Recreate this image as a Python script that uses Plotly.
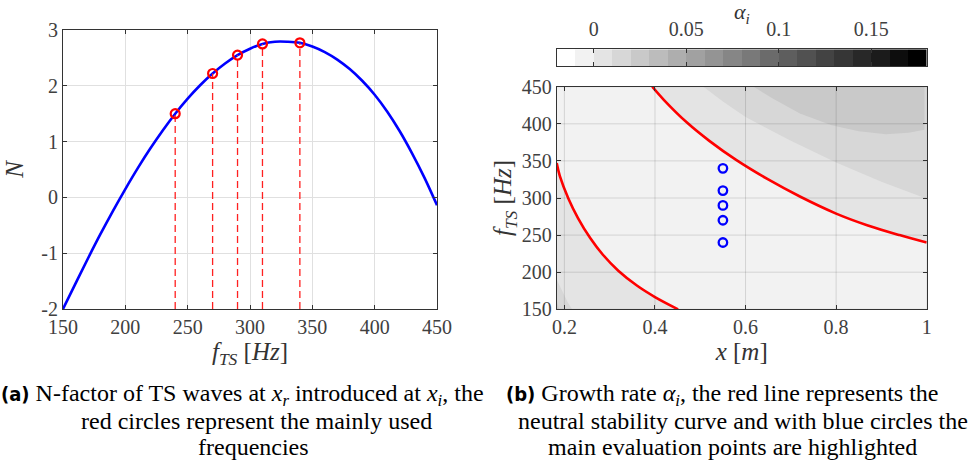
import plotly.graph_objects as go

# ---------------- data: left panel ----------------
f_curve = list(range(150, 451, 10))
N_curve = [-2.00, -1.545, -1.095, -0.66, -0.245, 0.15, 0.525, 0.875, 1.20, 1.50,
           1.77, 2.01, 2.22, 2.40, 2.55, 2.665, 2.75, 2.79, 2.79, 2.77,
           2.705, 2.605, 2.47, 2.30, 2.09, 1.84, 1.54, 1.19, 0.79, 0.35, -0.14]
f_sel = [240, 270, 290, 310, 340]
N_sel = [1.50, 2.22, 2.55, 2.75, 2.77]
left_xticks = [150, 200, 250, 300, 350, 400, 450]
left_yticks = [-2, -1, 0, 1, 2, 3]

# ---------------- data: right panel ----------------
x_range = [0.183, 1.0]
f_range = [150, 450]
# neutral stability curve (alpha_i = 0), two branches
x_lo = [0.183, 0.190, 0.209, 0.230, 0.257, 0.285, 0.319, 0.360, 0.400, 0.451]
f_lo = [347, 329.5, 299, 273, 246, 223.5, 202, 182, 166.5, 150]
x_up = [0.394, 0.420, 0.470, 0.520, 0.580, 0.650, 0.720, 0.800, 0.870, 0.940, 1.000]
f_up = [450, 432, 402, 377, 351, 325, 302, 279, 263, 250, 240]
# alpha_i = 0.01 contour (upper right) and 0.02 contour
x_b3 = [0.507, 0.550, 0.600, 0.700, 0.800, 0.900, 1.000]
f_b3 = [450, 430, 409, 377, 348, 322, 299]
x_b4 = [0.618, 0.660, 0.720, 0.790, 0.850, 0.910, 0.960, 0.995]
f_b4 = [450, 434, 414, 398, 390, 386, 388, 392]
# lower left corner contours
x_c3 = [0.183, 0.195, 0.207, 0.217]
f_c3 = [190, 175, 160, 150]
x_c4 = [0.183, 0.188]
f_c4 = [163, 150]
# evaluation points
x_pts = [0.55, 0.55, 0.55, 0.55, 0.55]
f_pts = [340, 310, 290, 270, 240]
right_xticks = [0.2, 0.4, 0.6, 0.8, 1.0]
right_xlabels = ["0.2", "0.4", "0.6", "0.8", "1"]
right_yticks = [150, 200, 250, 300, 350, 400, 450]

# colorbar levels
levels = [round(-0.02 + 0.01 * k, 2) for k in range(21)]
cb_ticks = [0, 0.05, 0.1, 0.15]
cb_labels = ["0", "0.05", "0.1", "0.15"]

nlev = len(levels) - 1


def gray(k):
    v = round(255 * (1 - k / (nlev - 1)))
    return f"rgb({v},{v},{v})"


FONT = "Liberation Serif"
AX = "#333333"

fig = go.Figure()

# ---------------- left panel ----------------
fig.add_trace(go.Scatter(x=f_curve, y=N_curve, mode="lines", line=dict(color="#0000ff", width=2.6, shape="spline"),
                         xaxis="x", yaxis="y", hoverinfo="skip", showlegend=False))
for fs, ns in zip(f_sel, N_sel):
    fig.add_trace(go.Scatter(x=[fs, fs], y=[left_yticks[0], ns], mode="lines",
                             line=dict(color="#ff2020", width=1.3, dash="7px,4px"),
                             xaxis="x", yaxis="y", hoverinfo="skip", showlegend=False))
fig.add_trace(go.Scatter(x=f_sel, y=N_sel, mode="markers",
                         marker=dict(symbol="circle-open", size=9, color="#ff0000", line=dict(width=2.2, color="#ff0000")),
                         xaxis="x", yaxis="y", hoverinfo="skip", showlegend=False))

# ---------------- right panel: filled contour bands ----------------
def band(xs, ys, k):
    fig.add_trace(go.Scatter(x=xs, y=ys, mode="lines", fill="toself", fillcolor=gray(k),
                             line=dict(width=0, color=gray(k)), xaxis="x2", yaxis="y2",
                             hoverinfo="skip", showlegend=False))

band([x_range[0], x_range[1], x_range[1], x_range[0], x_range[0]],
     [f_range[0], f_range[0], f_range[1], f_range[1], f_range[0]], 1)
band(x_lo + [x_range[0], x_lo[0]], f_lo + [f_range[0], f_lo[0]], 2)
band(x_up + [x_range[1], x_up[0]], f_up + [f_range[1], f_up[0]], 2)
band(x_b3 + [x_range[1], x_b3[0]], f_b3 + [f_range[1], f_b3[0]], 3)
band(x_b4 + [x_b4[-1], x_b4[0]], f_b4 + [f_range[1], f_b4[0]], 4)
band(x_c3 + [x_range[0], x_c3[0]], f_c3 + [f_range[0], f_c3[0]], 3)
band(x_c4 + [x_range[0], x_c4[0]], f_c4 + [f_range[0], f_c4[0]], 4)

for xs, ys in [(x_lo, f_lo), (x_up, f_up)]:
    fig.add_trace(go.Scatter(x=xs, y=ys, mode="lines", line=dict(color="#ff0000", width=2.6, shape="spline"),
                             xaxis="x2", yaxis="y2", hoverinfo="skip", showlegend=False))
fig.add_trace(go.Scatter(x=x_pts, y=f_pts, mode="markers",
                         marker=dict(symbol="circle-open", size=8.5, color="#0000ff", line=dict(width=2.3, color="#0000ff")),
                         xaxis="x2", yaxis="y2", hoverinfo="skip", showlegend=False))

# ---------------- colorbar as heatmap strip ----------------
centers = [(levels[i] + levels[i + 1]) / 2 for i in range(nlev)]
cscale = []
for k in range(nlev):
    cscale.append([k / nlev, gray(k)])
    cscale.append([(k + 1) / nlev, gray(k)])
fig.add_trace(go.Heatmap(x=centers, y=[0.5], z=[list(range(nlev))], colorscale=cscale,
                         zmin=-0.5, zmax=nlev - 0.5, showscale=False, xaxis="x3", yaxis="y3", hoverinfo="skip"))

# grid lines on top for right panel (Matlab layer=top)
shapes = []
for xv in right_xticks:
    shapes.append(dict(type="line", xref="x2", yref="y2", x0=xv, x1=xv, y0=f_range[0], y1=f_range[1],
                       line=dict(color="rgba(38,38,38,0.15)", width=1), layer="above"))
for yv in right_yticks:
    shapes.append(dict(type="line", xref="x2", yref="y2", x0=x_range[0], x1=x_range[1], y0=yv, y1=yv,
                       line=dict(color="rgba(38,38,38,0.15)", width=1), layer="above"))

W, H = 973, 464


def px(x):
    return x / W


def py(y):
    return 1 - y / H


tickfont = dict(family=FONT, size=20, color="#404040")
common = dict(showline=True, linecolor=AX, linewidth=1, mirror="ticks", ticks="inside", ticklen=4,
              tickcolor=AX, tickfont=tickfont, zeroline=False, automargin=False)
titlefont = dict(family=FONT, size=25, color="#333")

fig.update_layout(
    width=W, height=H, margin=dict(l=0, r=0, t=0, b=0),
    font=dict(family=FONT, color="#333"),
    paper_bgcolor="white", plot_bgcolor="white", showlegend=False,
    xaxis=dict(domain=[px(63), px(437)], range=[150, 450], tickvals=left_xticks, anchor="y",
               showgrid=True, gridcolor="#e0e0e0", gridwidth=1,
               title=dict(text="<i>f</i><sub><i>TS</i></sub> [<i>Hz</i>]", font=titlefont, standoff=1),
               **common),
    yaxis=dict(domain=[py(309), py(30)], range=[-2, 3], tickvals=left_yticks,
               ticktext=[str(v) for v in left_yticks], anchor="x",
               showgrid=True, gridcolor="#e0e0e0", gridwidth=1,
               title=dict(text="<i>N</i>", font=titlefont, standoff=10),
               **common),
    xaxis2=dict(domain=[px(556.7), px(926.7)], range=x_range, tickvals=right_xticks, ticktext=right_xlabels,
                anchor="y2", showgrid=False,
                title=dict(text="<i>x</i> [<i>m</i>]", font=titlefont, standoff=1),
                **common),
    yaxis2=dict(domain=[py(309.3), py(86.7)], range=f_range, tickvals=right_yticks, anchor="x2", showgrid=False,
                title=dict(text="<i>f</i><sub><i>TS</i></sub> [<i>Hz</i>]", font=titlefont, standoff=2),
                **common),
    xaxis3=dict(domain=[px(556.7), px(926.7)], range=[levels[0], levels[-1]], tickvals=cb_ticks, ticktext=cb_labels,
                side="top", anchor="y3", showgrid=False, ticklabelstandoff=4, **common),
    yaxis3=dict(domain=[py(66), py(49.3)], range=[0, 1], anchor="x3", showgrid=False, showticklabels=False,
                showline=True, linecolor=AX, mirror=True, ticks="", zeroline=False),
    shapes=shapes,
)

ann = []
ann.append(dict(text="<i>α</i><sub><i>i</i></sub>", x=px(742), y=py(13), xref="paper", yref="paper",
                showarrow=False, font=dict(family=FONT, size=22, color="#333"), xanchor="center", yanchor="middle"))

CAPF = dict(family=FONT, size=24, color="black")
lab = ("<b><span style=\"font-family:'Liberation Sans Narrow','DejaVu Sans Condensed','DejaVu Sans';"
       "font-size:20px;font-stretch:condensed\">%s</span></b>")
caps = [
    (lab % "(a)" + " N-factor of TS waves at <i>x</i><sub><i>r</i></sub> introduced at <i>x</i><sub><i>i</i></sub>, the", 242, 395),
    ("red circles represent the mainly used", 256, 421),
    ("frequencies", 253, 447),
    (lab % "(b)" + " Growth rate <i>α</i><sub><i>i</i></sub>, the red line represents the", 722, 395),
    ("neutral stability curve and with blue circles the", 743, 421),
    ("main evaluation points are highlighted", 732, 447),
]
for t, xc, yc in caps:
    ann.append(dict(text=t, x=px(xc), y=py(yc), xref="paper", yref="paper", showarrow=False,
                    font=CAPF, xanchor="center", yanchor="middle"))
fig.update_layout(annotations=ann)

fig.write_html("out.html")
